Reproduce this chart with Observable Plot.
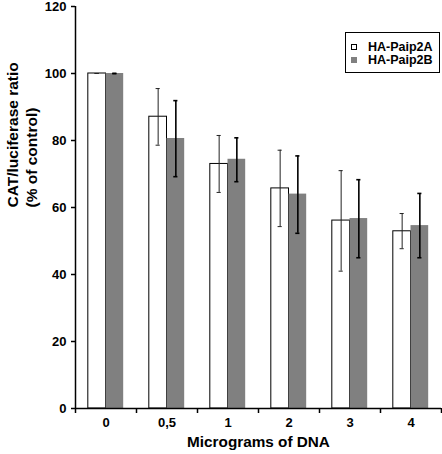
<!DOCTYPE html>
<html><head><meta charset="utf-8">
<script src="https://cdn.jsdelivr.net/npm/d3@7"></script>
<script src="https://cdn.jsdelivr.net/npm/@observablehq/plot@0.6"></script>
<style>
body{margin:0;background:#fff;}
#wrap{position:relative;width:442px;height:454px;font-family:"Liberation Sans",Arial,sans-serif;font-weight:bold;}
#wrap svg g[aria-label$="tick label"]{font-size:13px;font-weight:bold;}
#legend{position:absolute;left:345px;top:32px;width:95px;height:41px;border:1px solid #000;background:#fff;font-size:12.5px;color:#000;box-sizing:border-box;}
.row{position:absolute;left:0;height:13px;display:flex;align-items:center;white-space:nowrap;}
.sw{width:6px;height:6px;margin-left:5px;margin-right:11px;box-sizing:border-box;}
</style></head><body><div id="wrap"></div>
<script>
const categories = ["0", "0,5", "1", "2", "3", "4"];
const seriesNames = ["HA-Paip2A", "HA-Paip2B"];
const valuesA = [100, 87.1, 73.0, 65.7, 56.1, 52.9];
const errHiA  = [100, 95.5, 81.5, 77.1, 71.0, 58.2];
const errLoA  = [100, 78.6, 64.5, 54.3, 41.0, 47.7];
const valuesB = [100, 80.6, 74.4, 64.0, 56.7, 54.6];
const errHiB  = [100, 91.9, 80.8, 75.4, 68.3, 64.2];
const errLoB  = [100, 69.2, 67.7, 52.3, 45.0, 45.0];
const yTicks = [0, 20, 40, 60, 80, 100, 120];
const xTitle = "Micrograms of DNA";
const yTitle = "CAT/luciferase ratio\n(% of control)";

const colorA = "#ffffff", colorB = "#808080";
const bw = 0.29;       // bar width in category units
const cap = 0.034;     // error cap half width

const rowsA = categories.map((c, i) => ({i, c, value: valuesA[i], hi: errHiA[i], lo: errLoA[i], x1: i - bw, x2: i, xc: i - bw / 2}));
const rowsB = categories.map((c, i) => ({i, c, value: valuesB[i], hi: errHiB[i], lo: errLoB[i], x1: i, x2: i + bw, xc: i + bw / 2}));
const xDomain = [-0.5, categories.length - 0.5];
const boundaries = d3.range(categories.length + 1).map(k => k - 0.5);
const centers = d3.range(categories.length);

function errMarks(rows, stroke, sw) {
  return [
    Plot.ruleX(rows, {x: "xc", y1: "lo", y2: "hi", stroke, strokeWidth: sw}),
    Plot.ruleY(rows, {y: "hi", x1: d => d.xc - cap, x2: d => d.xc + cap, stroke, strokeWidth: sw}),
    Plot.ruleY(rows, {y: "lo", x1: d => d.xc - cap, x2: d => d.xc + cap, stroke, strokeWidth: sw})
  ];
}

const chart = Plot.plot({
  width: 442, height: 454,
  marginLeft: 75, marginRight: 1, marginTop: 6, marginBottom: 46,
  style: {fontFamily: '"Liberation Sans", Arial, sans-serif', fontSize: "13px", fontWeight: "bold", background: "#fff", color: "#000"},
  x: {type: "linear", domain: xDomain, axis: null},
  y: {domain: [0, 120], axis: null},
  marks: [
    Plot.rect(rowsA, {x1: "x1", x2: "x2", y1: 0, y2: "value", fill: colorA, stroke: "#000", strokeWidth: 1}),
    Plot.rect(rowsB, {x1: "x1", x2: "x2", y1: 0, y2: "value", fill: colorB}),
    ...errMarks(rowsA, "#222", 1),
    ...errMarks(rowsB, "#000", 1.6),
    Plot.ruleY([0], {stroke: "#000", strokeWidth: 1.5}),
    Plot.ruleX([xDomain[0]], {stroke: "#000", strokeWidth: 1.5}),
    Plot.axisY({ticks: yTicks, tickSize: 4, tickPadding: 5, tickFormat: d => String(d), label: null, strokeWidth: 1.5, fontSize: 13, fontWeight: "bold"}),
    Plot.axisX({ticks: boundaries, tickSize: 5, tickFormat: () => "", label: null, strokeWidth: 1.5}),
    Plot.axisX({ticks: centers, tickSize: 0, tickPadding: 9, tickFormat: i => categories[i], label: null, fontSize: 13, fontWeight: "bold"}),
    Plot.text([xTitle], {frameAnchor: "bottom", dy: 38, fontSize: 15.3, fontWeight: "bold", fill: "#000"}),
    Plot.text([yTitle], {frameAnchor: "left", dx: -54, rotate: -90, fontSize: 15.5, fontWeight: "bold", lineHeight: 1.25, fill: "#000"})
  ]
});

const wrap = document.getElementById("wrap");
wrap.appendChild(chart);
const legend = document.createElement("div");
legend.id = "legend";
[[seriesNames[0], colorA, "1px solid #000"], [seriesNames[1], colorB, "none"]].forEach(([name, fill, border], k) => {
  const row = document.createElement("div");
  row.className = "row";
  row.style.top = (7 + k * 13.3) + "px";
  const sw = document.createElement("span");
  sw.className = "sw";
  sw.style.background = fill;
  sw.style.border = border;
  const t = document.createElement("span");
  t.textContent = name;
  row.appendChild(sw); row.appendChild(t);
  legend.appendChild(row);
});
wrap.appendChild(legend);
</script></body></html>
